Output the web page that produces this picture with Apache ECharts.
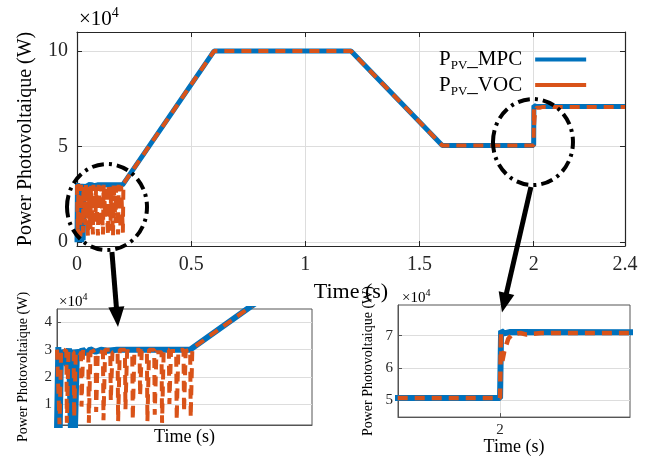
<!DOCTYPE html>
<html><head><meta charset="utf-8">
<script src="https://cdn.jsdelivr.net/npm/echarts@6/dist/echarts.min.js"></script>
<style>html,body{margin:0;padding:0;background:#fff}#c{width:657px;height:457px}</style>
</head><body><div id="c"></div>
<script>
// ---- data (power in units of 1e4 W, time in s) ----
const mpcPower = [
  [0.000, 0.00], [0.002, 3.10], [0.004, 0.00], [0.006, 3.00], [0.009, 2.50], [0.012, 3.00],
  [0.015, 2.40], [0.018, 3.05], [0.021, 0.00], [0.024, 3.00], [0.027, 0.10], [0.030, 3.00],
  [0.034, 2.70], [0.038, 3.02], [0.044, 2.85], [0.050, 3.02], [0.058, 2.92], [0.066, 3.00],
  [0.076, 2.96], [0.090, 3.00], [0.200, 3.00], [0.600, 10.00], [1.200, 10.00], [1.600, 5.06],
  [2.000, 5.06], [2.001, 7.15], [2.004, 7.07], [2.010, 7.11], [2.400, 7.10]
];
const vocPower = [
  [0.000, 3.00],
  [0.003, 3.00], [0.0038, 0.25], [0.0055, 0.30], [0.0063, 3.05],
  [0.014, 2.95], [0.0148, 0.30], [0.0165, 0.35], [0.0173, 3.00],
  [0.025, 2.90], [0.0258, 0.50], [0.0275, 0.55], [0.0283, 2.95],
  [0.036, 2.85], [0.0368, 0.90], [0.0385, 0.95], [0.0393, 3.00],
  [0.047, 2.95], [0.0478, 0.30], [0.0495, 0.35], [0.0503, 2.90],
  [0.058, 3.00], [0.0588, 0.70], [0.0605, 0.75], [0.0613, 2.95],
  [0.069, 2.90], [0.0698, 0.40], [0.0715, 0.45], [0.0723, 3.00],
  [0.080, 3.00], [0.0808, 1.10], [0.0825, 1.15], [0.0833, 2.90],
  [0.091, 2.95], [0.0918, 0.35], [0.0935, 0.40], [0.0943, 3.00],
  [0.102, 3.00], [0.1028, 0.80], [0.1045, 0.85], [0.1053, 2.95],
  [0.113, 2.90], [0.1138, 0.40], [0.1155, 0.45], [0.1163, 3.00],
  [0.124, 3.00], [0.1248, 1.30], [0.1265, 1.35], [0.1273, 2.95],
  [0.135, 2.95], [0.1358, 0.35], [0.1375, 0.40], [0.1383, 3.00],
  [0.146, 3.00], [0.1468, 0.60], [0.1485, 0.65], [0.1493, 2.90],
  [0.157, 2.90], [0.1578, 0.30], [0.1595, 0.35], [0.1603, 3.00],
  [0.168, 3.00], [0.1688, 1.00], [0.1705, 1.05], [0.1713, 2.95],
  [0.179, 2.95], [0.1798, 0.40], [0.1815, 0.45], [0.1823, 3.00],
  [0.190, 3.00], [0.1908, 0.70], [0.1925, 0.75], [0.1933, 2.95],
  [0.200, 3.00], [0.2008, 0.50], [0.2025, 0.55], [0.2033, 3.05],
  [0.206, 3.10], [0.600, 10.00], [1.200, 10.00], [1.600, 5.06], [2.000, 5.06], [2.0008, 7.10],
  [2.0016, 6.10], [2.004, 6.50], [2.008, 6.90], [2.012, 7.04], [2.020, 7.08], [2.026, 7.03],
  [2.033, 7.06], [2.040, 7.08], [2.400, 7.08]
];
const seriesNames = ['MPC', 'VOC'];
const mainXTicks = [0, 0.5, 1, 1.5, 2, 2.4];
const mainYTicks = [0, 5, 10];
const inset1YTicks = [1, 2, 3, 4];
const inset2XTicks = [2];
const inset2YTicks = [5, 6, 7];
// zoom annotations in data coordinates
const ellipseCenters = [[0, [0.1314, 1.84]], [0, [1.997, 5.24]]];
const arrowLinks = [
  { from: [0, [0.153, -0.515]], to: [1, [0.0916, 3.84]] },
  { from: [0, [1.988, 2.887]], to: [2, [2.0019, 7.714]] }
];

const F = '"Liberation Serif", "Times New Roman", serif';
const BLUE = '#0072BD', ORANGE = '#D95319', AX = '#262626', GRID = '#dddddd';

function xAx(o) {
  return Object.assign({
    type: 'value', axisLine: { onZero: false, lineStyle: { color: AX, width: 1.2 } },
    splitLine: { show: false }, axisTick: { show: false }, axisLabel: { show: false }
  }, o);
}

const chart = echarts.init(document.getElementById('c'), null, { renderer: 'canvas' });
const option = {
  animation: false,
  backgroundColor: '#fff',
  grid: [
    { left: 77, top: 32, right: 32, bottom: 211 },
    { left: 57, top: 309, width: 255, height: 116, show: true, borderColor: '#555', borderWidth: 1, backgroundColor: '#fff' },
    { left: 398, top: 305, width: 232, height: 118, show: true, borderColor: '#555', borderWidth: 1, backgroundColor: '#fff' }
  ],
  xAxis: [
    xAx({ gridIndex: 0, min: 0, max: 2.4,
      axisTick: { show: true, inside: true, length: 5, customValues: mainXTicks, lineStyle: { color: AX } },
      axisLabel: { show: true, customValues: mainXTicks, fontSize: 20, fontFamily: F, color: AX, margin: 9, formatter: v => String(v) },
      splitLine: { show: true, lineStyle: { color: GRID } },
      name: 'Time (s)', nameLocation: 'middle', nameGap: 35,
      nameTextStyle: { fontSize: 22, fontFamily: F, color: '#000' } }),
    xAx({ gridIndex: 1, min: 0, max: 0.383, axisLine: { onZero: false, lineStyle: { color: '#555', width: 1 } },
      name: 'Time (s)', nameLocation: 'middle', nameGap: 3,
      nameTextStyle: { fontSize: 18, fontFamily: F, color: '#000', verticalAlign: 'top' } }),
    xAx({ gridIndex: 2, min: 1.9, max: 2.1273, axisLine: { onZero: false, lineStyle: { color: '#555', width: 1 } },
      axisTick: { show: true, inside: true, length: 4, customValues: inset2XTicks, lineStyle: { color: '#555' } },
      axisLabel: { show: true, customValues: inset2XTicks, fontSize: 15, fontFamily: F, color: AX, margin: 5, formatter: v => String(v) },
      splitLine: { show: true, lineStyle: { color: GRID } },
      name: 'Time (s)', nameLocation: 'middle', nameGap: 15,
      nameTextStyle: { fontSize: 18, fontFamily: F, color: '#000', verticalAlign: 'top' } }),
    xAx({ gridIndex: 0, position: 'top', min: 0, max: 2.4,
      axisTick: { show: true, inside: true, length: 5, customValues: mainXTicks, lineStyle: { color: AX } } })
  ],
  yAxis: [
    xAx({ gridIndex: 0, min: -0.2, max: 11,
      axisTick: { show: true, inside: true, length: 5, customValues: mainYTicks, lineStyle: { color: AX } },
      axisLabel: { show: true, customValues: mainYTicks, fontSize: 20, fontFamily: F, color: AX, margin: 9, formatter: v => String(v) },
      splitLine: { show: true, lineStyle: { color: GRID } },
      name: 'Power Photovoltaique (W)', nameLocation: 'middle', nameGap: 41,
      nameTextStyle: { fontSize: 20, fontFamily: F, color: '#000' } }),
    xAx({ gridIndex: 1, min: 0.22, max: 4.5, axisLine: { onZero: false, lineStyle: { color: '#555', width: 1 } },
      axisTick: { show: true, inside: true, length: 4, customValues: inset1YTicks, lineStyle: { color: '#555' } },
      axisLabel: { show: true, customValues: inset1YTicks, fontSize: 15, fontFamily: F, color: AX, margin: 5, formatter: v => String(v) },
      splitLine: { show: true, lineStyle: { color: GRID } },
      name: 'Power Photovoltaique (W)', nameLocation: 'middle', nameGap: 27,
      nameTextStyle: { fontSize: 14, fontFamily: F, color: '#000' } }),
    xAx({ gridIndex: 2, min: 4.47, max: 7.95, axisLine: { onZero: false, lineStyle: { color: '#555', width: 1 } },
      axisTick: { show: true, inside: true, length: 4, customValues: inset2YTicks, lineStyle: { color: '#555' } },
      axisLabel: { show: true, customValues: inset2YTicks, fontSize: 15, fontFamily: F, color: AX, margin: 5, formatter: v => String(v) },
      splitLine: { show: true, lineStyle: { color: GRID } },
      name: 'Power Photovoltaique (W)', nameLocation: 'middle', nameGap: 23,
      nameTextStyle: { fontSize: 14, fontFamily: F, color: '#000' } }),
    xAx({ gridIndex: 0, position: 'right', min: -0.2, max: 11,
      axisTick: { show: true, inside: true, length: 5, customValues: mainYTicks, lineStyle: { color: AX } } })
  ],
  legend: {
    data: seriesNames, orient: 'vertical', left: 434, top: 44, align: 'right',
    itemWidth: 51, itemHeight: 4, itemGap: 2, icon: 'rect', selectedMode: false,
    formatter: n => '{p|P}{s|PV}{q|_' + n + '}',
    textStyle: { fontFamily: F, color: '#000',
      rich: {
        p: { fontSize: 21, lineHeight: 26, fontFamily: F, color: '#000' },
        q: { fontSize: 21, lineHeight: 26, fontFamily: F, color: '#000', padding: [0, 8, 0, 0] },
        s: { fontSize: 13, lineHeight: 14, verticalAlign: 'bottom', fontFamily: F, color: '#000' }
      } }
  },
  series: []
};
const widths = [[5, 4], [6, 4], [6, 4.5]];
for (let g = 0; g < 3; g++) {
  option.series.push({
    name: seriesNames[0], type: 'line', xAxisIndex: g, yAxisIndex: g, data: mpcPower,
    showSymbol: false, symbol: 'none', clip: true,
    lineStyle: { color: BLUE, width: widths[g][0] }, itemStyle: { color: BLUE }
  });
  option.series.push({
    name: seriesNames[1], type: 'line', xAxisIndex: g, yAxisIndex: g, data: vocPower,
    showSymbol: false, symbol: 'none', clip: true,
    lineStyle: { color: ORANGE, width: widths[g][1], type: [10, 7] }, itemStyle: { color: ORANGE }
  });
}
chart.setOption(option);

const toPx = (g, p) => chart.convertToPixel({ xAxisIndex: g, yAxisIndex: g }, p);
const graphics = [];
// x10^4 exponent labels
const expo = [[0, 2, 21, 14, -13], [1, 2, 15, 10, -7], [2, 4, 15, 10, -7]];
expo.forEach(([g, dx, fa, fb, dy]) => {
  const ax = option.xAxis[g], ay = option.yAxis[g];
  const tl = toPx(g, [ax.min, ay.max]);
  graphics.push({ type: 'text', z: 100, style: {
    x: tl[0] + dx, y: tl[1] + dy, text: '{a|×10}{b|4}', verticalAlign: 'middle', align: 'left',
    rich: { a: { fontSize: fa, lineHeight: fa + 4, fontFamily: F, fill: '#000' },
            b: { fontSize: fb, lineHeight: fb + 1, verticalAlign: 'top', fontFamily: F, fill: '#000' } } } });
});
ellipseCenters.forEach(([g, p]) => {
  const c = toPx(g, p);
  graphics.push({ type: 'ellipse', z: 100, shape: { cx: c[0], cy: c[1], rx: 40, ry: 43 },
    style: { fill: 'none', stroke: '#000', lineWidth: 4, lineDash: [12, 5, 3, 5] } });
});
arrowLinks.forEach(a => {
  const s = toPx(a.from[0], a.from[1]), t = toPx(a.to[0], a.to[1]);
  const dx = t[0] - s[0], dy = t[1] - s[1], L = Math.hypot(dx, dy), ux = dx / L, uy = dy / L;
  const hl = 20, hw = 8;
  const bx = t[0] - ux * hl, by = t[1] - uy * hl;
  graphics.push({ type: 'line', z: 100, shape: { x1: s[0], y1: s[1], x2: bx + ux * 2, y2: by + uy * 2 },
    style: { stroke: '#000', lineWidth: 5 } });
  graphics.push({ type: 'polygon', z: 100, shape: { points: [[t[0], t[1]], [bx - uy * hw, by + ux * hw], [bx + uy * hw, by - ux * hw]] },
    style: { fill: '#000' } });
});
chart.setOption({ graphic: graphics });
</script>
</body></html>
